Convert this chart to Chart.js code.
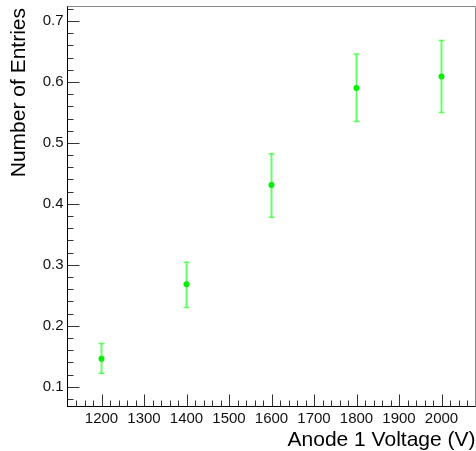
<!DOCTYPE html>
<html>
<head>
<meta charset="utf-8">
<script src="https://cdn.jsdelivr.net/npm/chart.js@4/dist/chart.umd.min.js"></script>
<style>
  html, body { margin: 0; padding: 0; background: #fff; }
  #wrap { width: 476px; height: 451px; }
</style>
</head>
<body>
<div id="wrap"><canvas id="canvas" width="476" height="451"></canvas></div>
<script>
// values
var voltages  = [1200, 1400, 1600, 1800, 2000];
var entries   = [0.146, 0.268, 0.431, 0.590, 0.609];
var errHigh   = [0.171, 0.304, 0.482, 0.646, 0.668];
var errLow    = [0.122, 0.230, 0.378, 0.535, 0.550];

var xTicks = [1200, 1300, 1400, 1500, 1600, 1700, 1800, 1900, 2000];
var yTicks = [0.1, 0.2, 0.3, 0.4, 0.5, 0.6, 0.7];

var xTitle = "Anode 1 Voltage (V)";
var yTitle = "Number of Entries";

var FONT = "'Liberation Sans', Arial, Helvetica, sans-serif";

// error bars under the markers
var errorBars = {
    id: 'errorBars',
    beforeDatasetsDraw: function(chart) {
        var ctx = chart.ctx, xs = chart.scales.x, ys = chart.scales.y;
        ctx.save();
        ctx.strokeStyle = 'rgba(0,255,0,0.6)';
        for (var i = 0; i < voltages.length; i++) {
            var px = xs.getPixelForValue(voltages[i]);
            var top = ys.getPixelForValue(errHigh[i]);
            var bot = ys.getPixelForValue(errLow[i]);
            ctx.lineWidth = 2;
            ctx.beginPath();
            ctx.moveTo(px, top);
            ctx.lineTo(px, bot);
            ctx.stroke();
            ctx.lineWidth = 1.5;
            ctx.beginPath();
            ctx.moveTo(px - 3, top); ctx.lineTo(px + 3, top);
            ctx.moveTo(px - 3, bot); ctx.lineTo(px + 3, bot);
            ctx.stroke();
        }
        ctx.restore();
    }
};

// ROOT style frame: ticks inside, grey top/right, axis titles at the ends
var rootFrame = {
    id: 'rootFrame',
    afterDraw: function(chart) {
        var ctx = chart.ctx, a = chart.chartArea;
        var xs = chart.scales.x, ys = chart.scales.y;
        ctx.save();

        ctx.strokeStyle = '#888';
        ctx.lineWidth = 1;
        ctx.beginPath();
        ctx.moveTo(a.left, a.top);
        ctx.lineTo(a.right, a.top);
        ctx.lineTo(a.right, a.bottom);
        ctx.stroke();

        ctx.strokeStyle = '#333';
        ctx.beginPath();
        for (var k = 57; k <= 103; k++) {
            var v = k * 20;
            var px = Math.round(xs.getPixelForValue(v)) + 0.5;
            var len = (v % 100 === 0) ? 12 : 6;
            ctx.moveTo(px, a.bottom);
            ctx.lineTo(px, a.bottom - len);
        }
        for (var j = 4; j <= 36; j++) {
            var yv = j * 0.02;
            var py = Math.round(ys.getPixelForValue(yv)) + 0.5;
            var ylen = (j % 5 === 0) ? 12 : 6;
            ctx.moveTo(a.left, py);
            ctx.lineTo(a.left + ylen, py);
        }
        ctx.stroke();

        ctx.fillStyle = '#000';
        ctx.font = '21px ' + FONT;
        ctx.textAlign = 'right';
        ctx.textBaseline = 'alphabetic';
        ctx.fillText(xTitle, a.right, 446);

        ctx.translate(25, a.top + 1.5);
        ctx.rotate(-Math.PI / 2);
        ctx.fillText(yTitle, 0, 0);
        ctx.restore();
    }
};

// no extra room for edge labels, keep the frame where the reference has it
function noPad(s) {
    s.paddingLeft = 0; s.paddingRight = 0; s.paddingTop = 0; s.paddingBottom = 0;
}

var points = [];
for (var i = 0; i < voltages.length; i++) {
    points.push({ x: voltages[i], y: entries[i] });
}

var tickFont = { family: FONT, size: 15 };

new Chart(document.getElementById('canvas').getContext('2d'), {
    type: 'scatter',
    data: {
        datasets: [{
            data: points,
            pointRadius: 3,
            pointBackgroundColor: '#00f000',
            pointBorderWidth: 0,
            showLine: false
        }]
    },
    options: {
        responsive: false,
        animation: false,
        layout: { autoPadding: false, padding: { top: 6.5, right: 0.5, left: 0, bottom: 0 } },
        plugins: { legend: { display: false }, tooltip: { enabled: false } },
        scales: {
            x: {
                type: 'linear',
                min: 1120,
                max: 2080,
                afterBuildTicks: function(s) { s.ticks = xTicks.map(function(v) { return { value: v }; }); },
                afterFit: function(s) { s.height = 44.5; noPad(s); },
                grid: { display: false, drawTicks: false },
                border: { display: true, color: '#000', width: 1 },
                ticks: { padding: 3, font: tickFont, color: '#111', maxRotation: 0, autoSkip: false,
                         callback: function(v) { return String(v); } }
            },
            y: {
                type: 'linear',
                min: 0.0675,
                max: 0.7238,
                afterBuildTicks: function(s) { s.ticks = yTicks.map(function(v) { return { value: v }; }); },
                afterFit: function(s) { s.width = 67.5; noPad(s); },
                grid: { display: false, drawTicks: false },
                border: { display: true, color: '#000', width: 1 },
                ticks: { padding: 4, font: tickFont, color: '#111', autoSkip: false,
                         callback: function(v) { return v.toFixed(1); } }
            }
        }
    },
    plugins: [errorBars, rootFrame]
});
</script>
</body>
</html>
